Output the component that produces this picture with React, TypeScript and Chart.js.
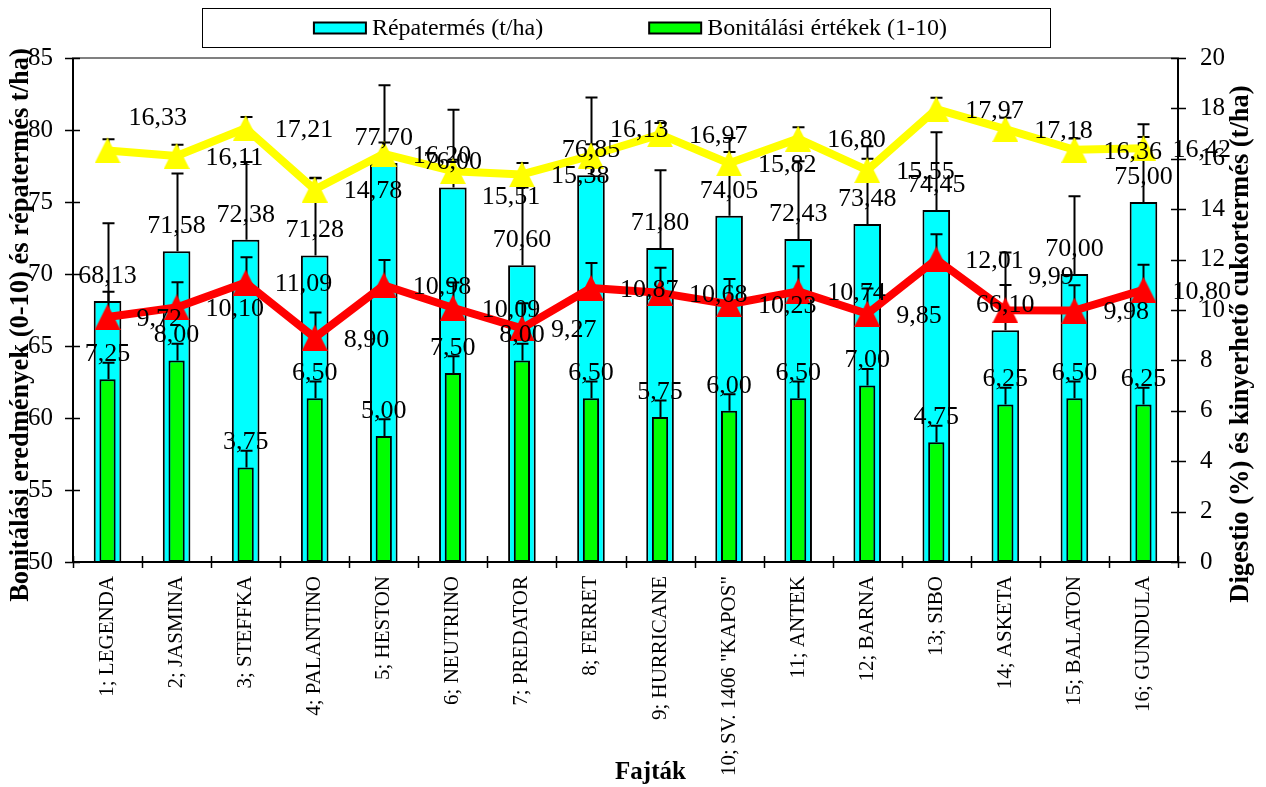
import React, { useEffect, useRef } from "react";
import { Chart, registerables } from "chart.js";

Chart.register(...registerables);

// ---------------- data ----------------
const categories = [
  "1; LEGENDA",
  "2; JASMINA",
  "3; STEFFKA",
  "4; PALANTINO",
  "5; HESTON",
  "6; NEUTRINO",
  "7; PREDATOR",
  "8; FERRET",
  "9; HURRICANE",
  '10; SV. 1406 "KAPOS"',
  "11; ANTEK",
  "12; BARNA",
  "13; SIBO",
  "14; ASKETA",
  "15; BALATON",
  "16; GUNDULA",
];

const repatermes = [68.13, 71.58, 72.38, 71.28, 77.7, 76.0, 70.6, 76.85, 71.8, 74.05, 72.43, 73.48, 74.45, 66.1, 70.0, 75.0];
const bonitalas = [7.25, 8.0, 3.75, 6.5, 5.0, 7.5, 8.0, 6.5, 5.75, 6.0, 6.5, 7.0, 4.75, 6.25, 6.5, 6.25];
const digestio = [16.33, 16.11, 17.21, 14.78, 16.2, 15.51, 15.38, 16.13, 16.97, 15.82, 16.8, 15.55, 17.97, 17.18, 16.36, 16.42];
const cukortermes = [9.72, 10.1, 11.09, 8.9, 10.98, 10.09, 9.27, 10.87, 10.68, 10.23, 10.74, 9.85, 12.01, 9.99, 9.98, 10.8];

// plus-direction error amounts (one per series)
const repatermesErr = 5.4;
const bonitalasErr = 0.66;
const digestioErr = 0.45;
const cukortermesErr = 1.0;

const leftAxisRange = { min: 50, max: 85, step: 5 };
const rightAxisRange = { min: 0, max: 20, step: 2 };

const seriesNames = [
  "Répatermés (t/ha)",
  "Bonitálási értékek (1-10)",
  "Digestio (%)",
  "Kinyerhető cukortermés (t/ha)",
];

const leftTitle = "Bonitálási eredmények (0-10) és répatermés t/ha)";
const rightTitle = "Digestio (%) és kinyerhető cukortermés (t/ha)";
const xTitle = "Fajták";

// ---------------- styling ----------------
const SERIF = "'Liberation Serif', 'Times New Roman', Times, serif";
const W = 1266;
const H = 787;
const PLOT_TOP = 58;
const PLOT_BOTTOM = 562;
const PLOT_LEFT = 73;
const PLOT_RIGHT = 1178;

// label nudges (px) for a few manually moved labels: datasetIndex -> index -> [dx, dy]
const labelNudges: Record<number, Record<number, [number, number]>> = {
  2: { 0: [-8, -34], 5: [0, 24], 7: [-10, -27] },
  3: { 13: [-6, -35] },
};

const fmt = (v: number) => v.toFixed(2).replace(".", ",");

function makeTriangle(color: string, size: number): HTMLCanvasElement {
  const c = document.createElement("canvas");
  c.width = size;
  c.height = size;
  const g = c.getContext("2d")!;
  g.fillStyle = color;
  g.beginPath();
  g.moveTo(size / 2, 0);
  g.lineTo(size, size);
  g.lineTo(0, size);
  g.closePath();
  g.fill();
  return c;
}

const errorBarPlugin = {
  id: "errorBars",
  beforeDatasetDraw(chart: any, args: any) {
    const ds = chart.data.datasets[args.index];
    const err = ds.errorPlus;
    if (!err) return;
    const meta = args.meta;
    const scale = chart.scales[meta.yAxisID];
    const ctx = chart.ctx;
    ctx.save();
    ctx.strokeStyle = "#000";
    ctx.lineWidth = 2;
    meta.data.forEach((el: any, i: number) => {
      const v = ds.data[i];
      const top = scale.getPixelForValue(v + err);
      const x = Math.round(el.x) + 0.5;
      ctx.beginPath();
      ctx.moveTo(x, el.y);
      ctx.lineTo(x, top);
      ctx.moveTo(x - 6, top);
      ctx.lineTo(x + 6, top);
      ctx.stroke();
    });
    ctx.restore();
  },
};

function drawAxes(chart: any) {
  const ctx = chart.ctx;
  const { left, right, top, bottom } = chart.chartArea;
  ctx.save();
  // plot area border (grey)
  ctx.strokeStyle = "#808080";
  ctx.lineWidth = 2;
  ctx.strokeRect(left, top, right - left, bottom - top);
  // axes
  ctx.strokeStyle = "#000";
  ctx.lineWidth = 2;
  ctx.beginPath();
  ctx.moveTo(left, top);
  ctx.lineTo(left, bottom);
  ctx.moveTo(right, top);
  ctx.lineTo(right, bottom);
  ctx.moveTo(left, bottom);
  ctx.lineTo(right, bottom);
  ctx.stroke();
  // ticks
  ctx.lineWidth = 1.5;
  ctx.beginPath();
  const yL = chart.scales.y;
  yL.ticks.forEach((t: any) => {
    const py = Math.round(yL.getPixelForValue(t.value)) + 0.5;
    ctx.moveTo(left - 8, py);
    ctx.lineTo(left + 7, py);
  });
  const yR = chart.scales.y1;
  yR.ticks.forEach((t: any) => {
    const py = Math.round(yR.getPixelForValue(t.value)) + 0.5;
    ctx.moveTo(right - 7, py);
    ctx.lineTo(right + 8, py);
  });
  const xs = chart.scales.x;
  for (let i = 0; i <= categories.length; i++) {
    const px = Math.round(xs.getPixelForValue(i - 0.5)) + 0.5;
    ctx.moveTo(px, bottom - 6);
    ctx.lineTo(px, bottom + 6);
  }
  ctx.stroke();
  ctx.restore();
}

const labelPlugin = {
  id: "valueLabels",
  afterDatasetsDraw(chart: any) {
    drawAxes(chart);
    const ctx = chart.ctx;
    ctx.save();
    ctx.font = `26px ${SERIF}`;
    ctx.fillStyle = "#000";
    ctx.textBaseline = "middle";
    chart.data.datasets.forEach((ds: any, di: number) => {
      const meta = chart.getDatasetMeta(di);
      const nudges = labelNudges[di] || {};
      meta.data.forEach((el: any, i: number) => {
        const text = fmt(ds.data[i]);
        const [nx, ny] = nudges[i] || [0, 0];
        if (meta.type === "bar") {
          ctx.textAlign = "center";
          ctx.fillText(text, el.x + nx, el.y - 25 + ny);
        } else {
          ctx.textAlign = "left";
          ctx.fillText(text, el.x + 29 + nx, el.y + 2 + ny);
        }
      });
    });
    ctx.restore();
  },
};

const decorPlugin = {
  id: "decor",
  afterDraw(chart: any) {
    const ctx = chart.ctx;
    const { left, right } = chart.chartArea;
    const cx = (left + right) / 2;
    ctx.save();
    ctx.fillStyle = "#000";
    // axis titles
    ctx.font = `bold 26.5px ${SERIF}`;
    ctx.textAlign = "center";
    ctx.textBaseline = "middle";
    ctx.save();
    ctx.translate(21, 325);
    ctx.rotate(-Math.PI / 2);
    ctx.fillText(leftTitle, 0, 0);
    ctx.restore();
    ctx.save();
    ctx.translate(1241, 344);
    ctx.rotate(-Math.PI / 2);
    ctx.fillText(rightTitle, 0, 0);
    ctx.restore();
    ctx.font = `bold 25px ${SERIF}`;
    ctx.fillText(xTitle, cx + 25, 773);

    // legend
    const boxTop = 8;
    const boxH = 39;
    const boxW = 848;
    ctx.strokeStyle = "#000";
    ctx.lineWidth = 1;
    ctx.fillStyle = "#fff";
    ctx.fillRect(cx + 0.5 - boxW / 2, boxTop, boxW, boxH);
    ctx.strokeRect(Math.round(cx - boxW / 2) + 0.5, boxTop + 0.5, boxW, boxH);

    ctx.font = `24px ${SERIF}`;
    const items = [0, 1].map((i) => ({
      label: chart.data.datasets[i].label,
      color: chart.data.datasets[i].backgroundColor,
      w: ctx.measureText(chart.data.datasets[i].label).width,
    }));
    const sw = 52;
    const sh = 11;
    const gapText = 6;
    const gapItems = 106;
    const total = sw + gapText + items[0].w + gapItems + sw + gapText + items[1].w;
    let x = cx + 5 - total / 2;
    const my = boxTop + 20;
    ctx.textAlign = "left";
    ctx.textBaseline = "middle";
    items.forEach((it) => {
      ctx.fillStyle = it.color;
      ctx.fillRect(x, my - sh / 2, sw, sh);
      ctx.strokeStyle = "#000";
      ctx.lineWidth = 2;
      ctx.strokeRect(x, my - sh / 2, sw, sh);
      ctx.fillStyle = "#000";
      ctx.fillText(it.label, x + sw + gapText, my + 1);
      x += sw + gapText + it.w + gapItems;
    });
    ctx.restore();
  },
};

export default function App() {
  const ref = useRef<HTMLCanvasElement>(null);

  useEffect(() => {
    const canvas = ref.current;
    if (!canvas) return;
    Chart.defaults.font.family = SERIF;
    Chart.defaults.color = "#000";

    const yellowTri = makeTriangle("#FFFF00", 26);
    const redTri = makeTriangle("#FF0000", 26);

    const chart = new Chart(canvas, {
      data: {
        labels: categories,
        datasets: [
          {
            type: "bar",
            label: seriesNames[0],
            data: repatermes,
            yAxisID: "y",
            backgroundColor: "#00FFFF",
            borderColor: "#000",
            borderWidth: 2,
            borderSkipped: false,
            grouped: false,
            categoryPercentage: 1,
            barPercentage: 0.4,
            order: 4,
            errorPlus: repatermesErr,
          } as any,
          {
            type: "bar",
            label: seriesNames[1],
            data: bonitalas,
            yAxisID: "y1",
            backgroundColor: "#00FF00",
            borderColor: "#000",
            borderWidth: 2,
            borderSkipped: false,
            grouped: false,
            categoryPercentage: 1,
            barPercentage: 0.235,
            order: 3,
            errorPlus: bonitalasErr,
          } as any,
          {
            type: "line",
            label: seriesNames[2],
            data: digestio,
            yAxisID: "y1",
            borderColor: "#FFFF00",
            backgroundColor: "#FFFF00",
            borderWidth: 8,
            borderJoinStyle: "round",
            pointStyle: yellowTri,
            pointRadius: 13,
            tension: 0,
            fill: false,
            order: 2,
            errorPlus: digestioErr,
          } as any,
          {
            type: "line",
            label: seriesNames[3],
            data: cukortermes,
            yAxisID: "y1",
            borderColor: "#FF0000",
            backgroundColor: "#FF0000",
            borderWidth: 8,
            borderJoinStyle: "round",
            pointStyle: redTri,
            pointRadius: 13,
            tension: 0,
            fill: false,
            order: 1,
            errorPlus: cukortermesErr,
          } as any,
        ],
      },
      options: {
        responsive: false,
        animation: false,
        events: [],
        layout: { padding: { top: PLOT_TOP, left: 0, right: 0, bottom: 0 } },
        plugins: {
          legend: { display: false },
          title: { display: false },
          tooltip: { enabled: false },
        },
        scales: {
          x: {
            type: "category",
            offset: true,
            grid: { display: false, drawTicks: false },
            border: { display: false },
            ticks: {
              autoSkip: false,
              minRotation: 90,
              maxRotation: 90,
              padding: 14,
              color: "#000",
              font: { family: SERIF, size: 21 },
            },
            afterFit: (s: any) => {
              s.height = H - PLOT_BOTTOM;
            },
          },
          y: {
            type: "linear",
            position: "left",
            min: leftAxisRange.min,
            max: leftAxisRange.max,
            grid: { display: false, drawTicks: false },
            border: { display: false },
            ticks: {
              stepSize: leftAxisRange.step,
              padding: 20,
              color: "#000",
              font: { family: SERIF, size: 25 },
            },
            afterFit: (s: any) => {
              s.width = PLOT_LEFT;
            },
          },
          y1: {
            type: "linear",
            position: "right",
            min: rightAxisRange.min,
            max: rightAxisRange.max,
            grid: { display: false, drawTicks: false },
            border: { display: false },
            ticks: {
              stepSize: rightAxisRange.step,
              padding: 22,
              color: "#000",
              font: { family: SERIF, size: 25 },
            },
            afterFit: (s: any) => {
              s.width = W - PLOT_RIGHT;
            },
          },
        },
      } as any,
      plugins: [errorBarPlugin, labelPlugin, decorPlugin],
    });

    return () => chart.destroy();
  }, []);

  return (
    <div style={{ position: "absolute", left: 0, top: 0, width: W, height: H, background: "#fff" }}>
      <canvas ref={ref} width={W} height={H} style={{ display: "block", width: W, height: H }} />
    </div>
  );
}
